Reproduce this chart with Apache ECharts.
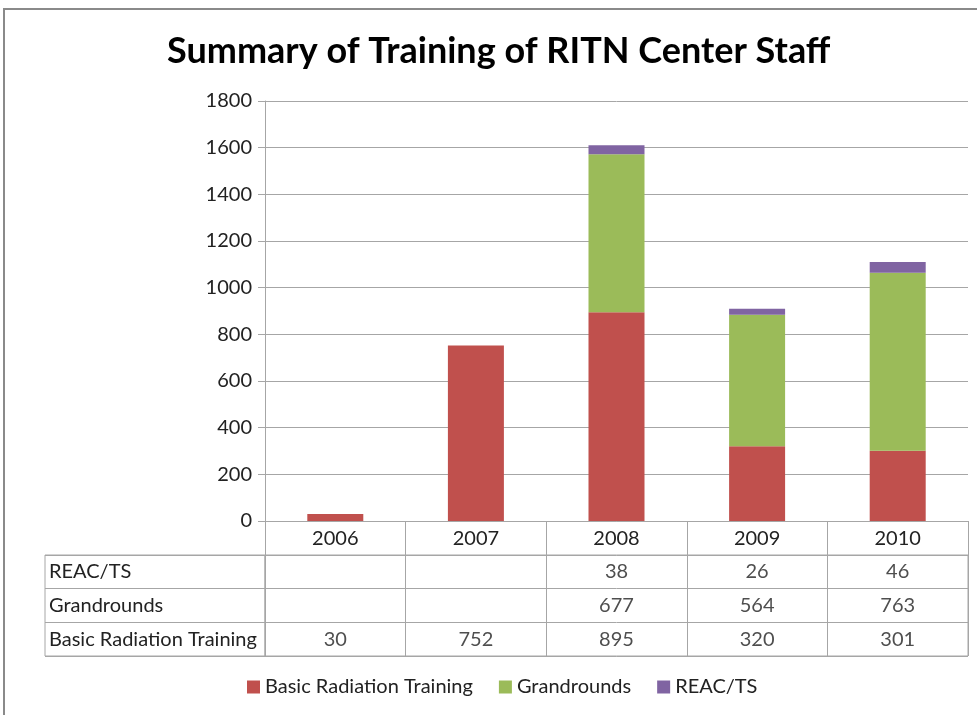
<!DOCTYPE html>
<html>
<head>
<meta charset="utf-8">
<script src="https://cdn.jsdelivr.net/npm/echarts@6/dist/echarts.min.js"></script>
<style>
  html, body { margin: 0; padding: 0; background: #fff; }
  #chart { width: 977px; height: 715px; }
</style>
</head>
<body>
<div id="chart"></div>
<script>
const years = ['2006', '2007', '2008', '2009', '2010'];
const basic = [30, 752, 895, 320, 301];
const grandrounds = [null, null, 677, 564, 763];
const reacts = [null, null, 38, 26, 46];
const yTicks = { min: 0, max: 1800, interval: 200 };
// table rows, bottom to top on the axis
const rowNames = ['Basic Radiation Training', 'Grandrounds', 'REAC/TS'];

const lineGray = '#a6a6a6';
const txt = '#222';
const font = 'Lato';
const fs = 20;

const chart = echarts.init(document.getElementById('chart'));

// one scatter series per table row; invisible symbols, value as label
function cellSeries(name, values, rowIdx) {
  const data = [];
  values.forEach((v, i) => {
    if (v != null) data.push([years[i], rowNames[rowIdx], v]);
  });
  return {
    name: 'cell-' + name,
    type: 'scatter',
    xAxisIndex: 1,
    yAxisIndex: 1,
    symbolSize: 0,
    silent: true,
    data: data,
    label: {
      show: true,
      position: 'inside',
      formatter: p => String(p.value[2]),
      color: txt, fontFamily: font, fontSize: fs
    }
  };
}

const option = {
  animation: false,
  textStyle: { fontFamily: font },
  title: {
    text: 'Summary of Training of RITN Center Staff',
    left: 162,
    top: 28,
    textStyle: { fontFamily: font, fontWeight: 'bold', fontSize: 36, color: '#000' }
  },
  legend: {
    data: ['Basic Radiation Training', 'Grandrounds', 'REAC/TS'],
    bottom: 13,
    left: 242,
    icon: 'rect',
    itemWidth: 13,
    itemHeight: 13,
    itemGap: 26,
    textStyle: { fontFamily: font, fontSize: fs, color: txt }
  },
  graphic: [{
    type: 'rect',
    shape: { x: 4, y: 9, width: 1000, height: 800 },
    style: { fill: 'none', stroke: '#8a8a8a', lineWidth: 2 },
    silent: true
  }],
  grid: [
    { left: 265, right: 9, top: 101, height: 420 },
    { left: 265, right: 9, top: 555, height: 101, show: true, borderColor: lineGray, borderWidth: 1 },
    { left: 45, width: 220, top: 555, height: 101, show: true, borderColor: lineGray, borderWidth: 1 }
  ],
  xAxis: [
    {
      gridIndex: 0,
      type: 'category',
      data: years,
      axisLine: { lineStyle: { color: lineGray } },
      axisTick: { show: true, interval: 0, length: 34, lineStyle: { color: lineGray } },
      axisLabel: { color: txt, fontSize: fs, margin: 8, fontFamily: font }
    },
    {
      gridIndex: 1,
      type: 'category',
      data: years,
      axisLine: { show: false },
      axisTick: { show: false },
      axisLabel: { show: false },
      splitLine: { show: true, interval: 0, lineStyle: { color: lineGray } }
    },
    {
      gridIndex: 2,
      type: 'value',
      show: false
    }
  ],
  yAxis: [
    {
      gridIndex: 0,
      type: 'value',
      min: yTicks.min,
      max: yTicks.max,
      interval: yTicks.interval,
      axisLine: { show: true, lineStyle: { color: lineGray } },
      axisTick: { show: true, length: 7, lineStyle: { color: lineGray } },
      splitLine: { lineStyle: { color: lineGray } },
      axisLabel: { color: txt, fontSize: fs, margin: 13, fontFamily: font, formatter: v => String(v) }
    },
    {
      gridIndex: 1,
      type: 'category',
      data: rowNames,
      axisLine: { show: false },
      axisTick: { show: false },
      axisLabel: { show: false },
      splitLine: { show: true, interval: 0, lineStyle: { color: lineGray } }
    },
    {
      gridIndex: 2,
      type: 'category',
      data: rowNames,
      axisLine: { show: false },
      axisTick: { show: false },
      axisLabel: { inside: true, margin: 4, color: txt, fontSize: fs, fontFamily: font },
      splitLine: { show: true, interval: 0, lineStyle: { color: lineGray } }
    }
  ],
  series: [
    {
      name: 'Basic Radiation Training', type: 'bar', stack: 'total',
      barWidth: 56, data: basic, itemStyle: { color: '#C0504D' }
    },
    {
      name: 'Grandrounds', type: 'bar', stack: 'total',
      barWidth: 56, data: grandrounds, itemStyle: { color: '#9BBB59' }
    },
    {
      name: 'REAC/TS', type: 'bar', stack: 'total',
      barWidth: 56, data: reacts, itemStyle: { color: '#8064A2' }
    },
    cellSeries('basic', basic, 0),
    cellSeries('grand', grandrounds, 1),
    cellSeries('reac', reacts, 2)
  ]
};

chart.setOption(option);
</script>
</body>
</html>
